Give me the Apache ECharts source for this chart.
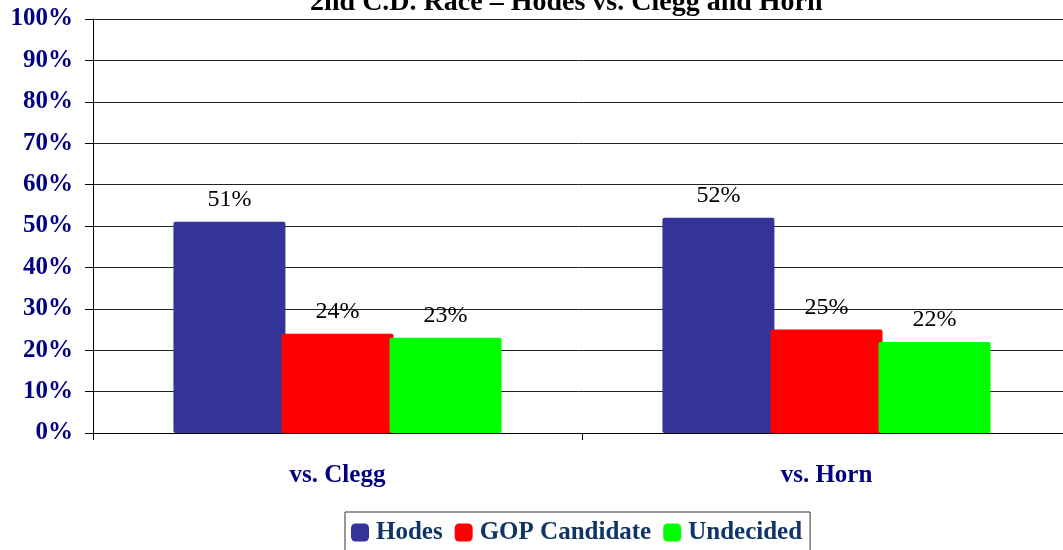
<!DOCTYPE html>
<html><head><meta charset="utf-8">
<script src="https://cdn.jsdelivr.net/npm/echarts@6/dist/echarts.min.js"></script>
<style>html,body{margin:0;padding:0;background:#fff}#c{width:1063px;height:550px}</style>
</head><body><div id="c"></div>
<script>
const categories = ['vs. Clegg', 'vs. Horn'];
const hodes = [51, 52];
const gop = [24, 25];
const undecided = [23, 22];
const yTicks = [0, 10, 20, 30, 40, 50, 60, 70, 80, 90, 100];
const titleText = '2nd C.D. Race \u2013 Hodes vs. Clegg and Horn';

const serif = '"Liberation Serif", "Times New Roman", serif';
const chart = echarts.init(document.getElementById('c'));
const lbl = {show: true, position: 'top', distance: 10, formatter: p => p.value + '%',
  fontFamily: serif, fontSize: 24, color: '#000'};
function ser(name, data, color) {
  return {name, type: 'bar', data, barWidth: 112, barGap: '-3.5%',
    itemStyle: {color, borderRadius: 2}, label: lbl};
}
chart.setOption({
  animation: false,
  title: {text: titleText, left: 305, top: -16,
    textStyle: {fontFamily: serif, fontSize: 28, fontWeight: 'bold', color: '#000'}},
  grid: {left: 93, width: 978, top: 19, bottom: 117, containLabel: false, outerBoundsMode: 'none'},
  legend: {top: 512, left: 345, itemWidth: 18, itemHeight: 18, itemGap: 12,
    borderColor: '#333', borderWidth: 1, padding: [8, 8, 12, 6],
    icon: 'roundRect',
    textStyle: {fontFamily: serif, fontSize: 25, fontWeight: 'bold', color: '#0f3466', padding: [0,0,0,2]},
    data: ['Hodes', 'GOP Candidate', 'Undecided']},
  xAxis: {type: 'category', data: categories,
    axisLine: {lineStyle: {color: '#000', width: 1}},
    axisTick: {show: true, length: 7, lineStyle: {color: '#000'}},
    axisLabel: {margin: 30, fontFamily: serif, fontSize: 25, fontWeight: 'bold', color: '#000080'}},
  yAxis: {type: 'value', min: 0, max: 100, interval: 10,
    axisLine: {show: true, lineStyle: {color: '#000', width: 1}},
    axisTick: {show: true, length: 8, lineStyle: {color: '#000'}},
    splitLine: {lineStyle: {color: '#222', width: 1}},
    axisLabel: {margin: 20, fontFamily: serif, fontSize: 25, fontWeight: 'bold', color: '#000080',
      formatter: v => yTicks.includes(v) ? v + '%' : ''}},
  series: [ser('Hodes', hodes, '#333399'), ser('GOP Candidate', gop, '#ff0000'), ser('Undecided', undecided, '#00ff00')]
});
</script></body></html>
